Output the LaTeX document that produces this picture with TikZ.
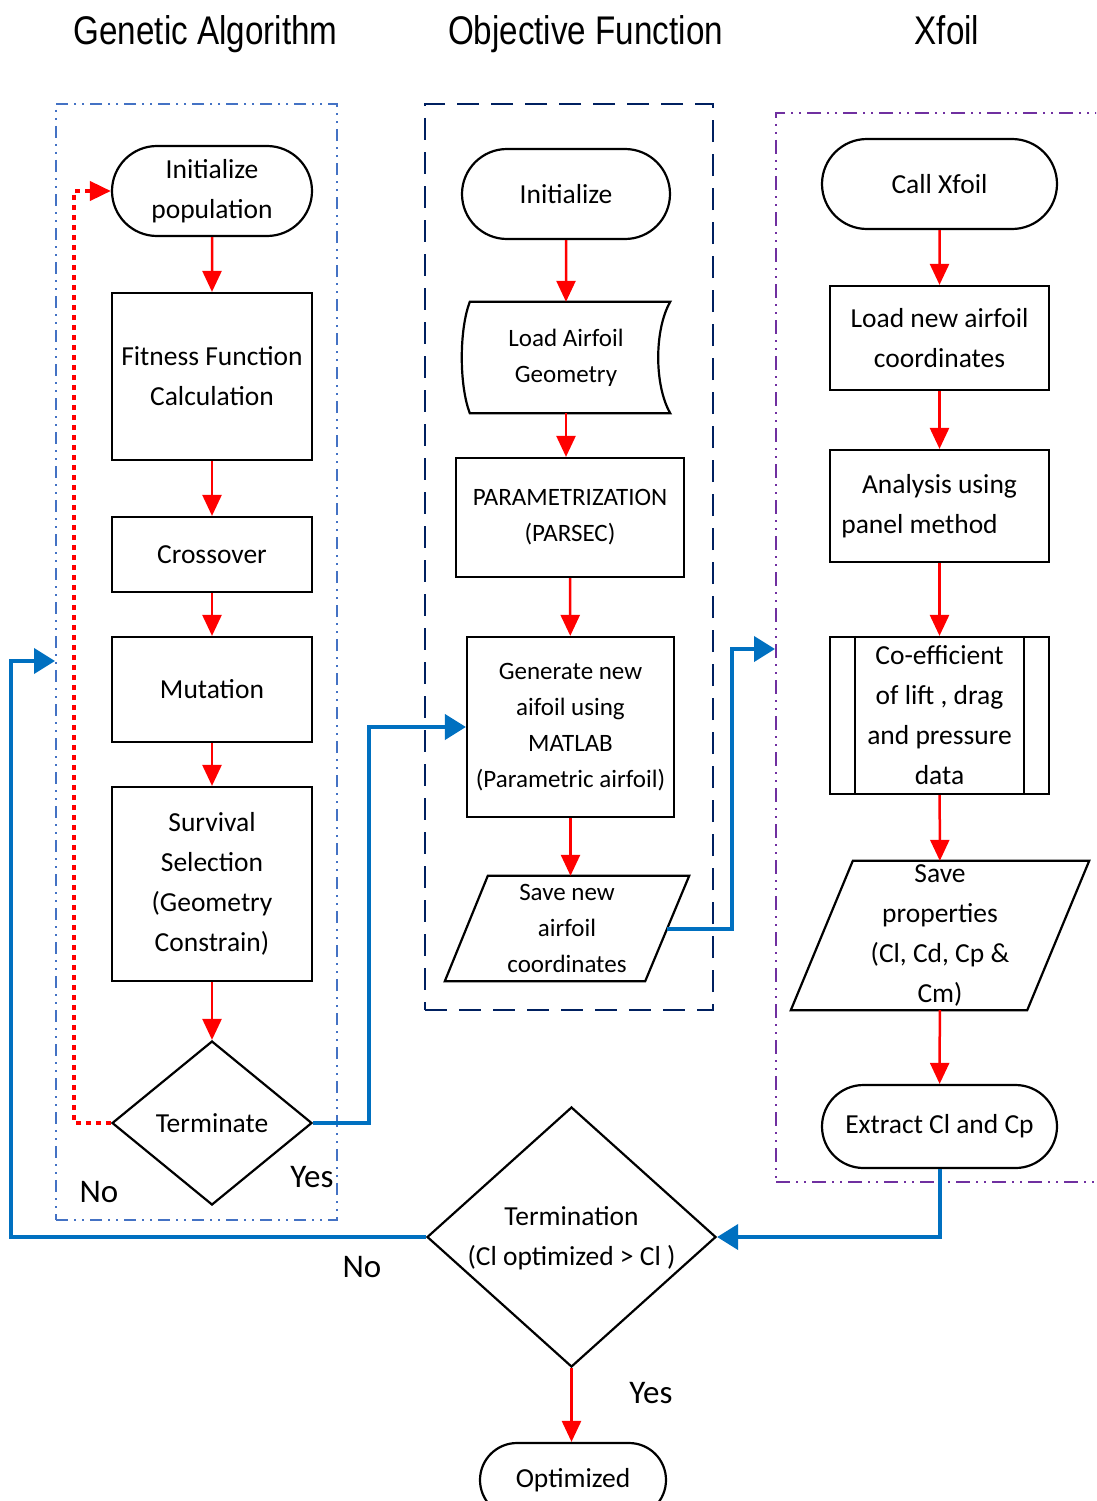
\documentclass[tikz,border=0pt]{standalone}
\usepackage{fontspec}
\setmainfont{Carlito}
\newfontfamily\titlefont[FakeStretch=0.83]{Liberation Sans}
\usetikzlibrary{arrows.meta,shapes.misc,shapes.geometric,calc}
\definecolor{ared}{HTML}{FF0000}
\definecolor{ablue}{HTML}{0070C0}
\definecolor{gabl}{HTML}{4472C4}
\definecolor{navyc}{HTML}{002060}
\definecolor{purp}{HTML}{7030A0}
\tikzset{
  shp/.style={line width=2.2pt, black},
  bigtxt/.style={font=\fontsize{27.5}{40}\selectfont, align=center},
  midtxt/.style={font=\fontsize{25}{36}\selectfont, align=center},
  termbox/.style={shp, draw, rounded rectangle, inner sep=0pt, bigtxt},
  procbox/.style={shp, draw, rectangle, inner sep=0pt},
  bare/.style={rectangle, inner sep=0pt},
  decis/.style={shp, draw, diamond, inner sep=0pt, bigtxt},
  redarr/.style={draw=ared, line width=2.5pt, -{Triangle[width=19pt,length=21pt]}, color=ared},
  bluearr/.style={draw=ablue, line width=4pt, -{Triangle[width=25pt,length=21pt]}, color=ablue},
  dotarr/.style={draw=ared, line width=4pt, dash pattern=on 5pt off 5pt, -{Triangle[width=19pt,length=21pt]}, color=ared},
  grpbox/.style={rectangle, inner sep=0pt, line width=2pt},
  lbl/.style={font=\fontsize{33}{40}\selectfont},
  ttl/.style={font=\titlefont\fontsize{40}{48}\selectfont, anchor=base}
}
\begin{document}
\begin{tikzpicture}[x=1pt,y=-1pt]
\fill[white] (0,0) rectangle (1096,1501);
\clip (0,0) rectangle (1096,1501);

% titles
\node[ttl] (t1) at (205.5,45) {Genetic Algorithm};
\node[ttl] (t2) at (585.5,45) {Objective Function};
\node[ttl] (t3) at (947,45) {Xfoil};

% group boxes
\node[grpbox, draw=gabl, dash pattern=on 12pt off 6pt on 2pt off 6pt on 2pt off 6pt, minimum width=281pt, minimum height=1116pt] (gabox) at (196.5,662) {};
\node[grpbox, draw=navyc, dash pattern=on 22pt off 12pt, minimum width=288pt, minimum height=906pt] (ofbox) at (569,557) {};
\node[grpbox, draw=purp, dash pattern=on 14pt off 6pt on 2pt off 6pt on 2pt off 6pt, minimum width=334pt, minimum height=1069pt] (xfbox) at (943,647.5) {};

% GA column
\node[termbox, minimum width=200pt, minimum height=90pt] (ip) at (212,191) {Initialize\\population};
\node[procbox, bigtxt, minimum width=200pt, minimum height=167pt] (fit) at (212,376.5) {Fitness Function\\Calculation};
\node[procbox, bigtxt, minimum width=200pt, minimum height=75pt] (cross) at (212,554.5) {Crossover};
\node[procbox, bigtxt, minimum width=200pt, minimum height=105pt] (mut) at (212,689.5) {Mutation};
\node[procbox, bigtxt, minimum width=200pt, minimum height=194pt] (surv) at (212,884) {Survival\\Selection\\(Geometry\\Constrain)};
\node[decis, minimum width=200pt, minimum height=164pt, aspect=1.22] (term1) at (212,1123) {Terminate};

\draw[redarr] (ip) -- (fit);
\draw[redarr] (fit) -- (cross);
\draw[redarr] (cross) -- (mut);
\draw[redarr] (mut) -- (surv);
\draw[redarr] (surv) -- (term1);
\draw[dotarr] (term1.west) -- (74,1123) -- (74,191) -- (ip.west);

\node[lbl] (no1) at (99,1192) {No};
\node[lbl] (yes1) at (312,1177) {Yes};

% Objective function column
\node[termbox, minimum width=208pt, minimum height=90pt] (init) at (566,194) {Initialize};
\node[bare, midtxt, minimum width=208pt, minimum height=111pt] (load) at (566,357.5) {Load Airfoil\\Geometry};
\draw[shp] ([xshift=8pt]load.north west) -- (load.north east)
  .. controls ($(load.north east)+(-16,28)$) and ($(load.south east)+(-16,-28)$) .. (load.south east)
  -- ([xshift=8pt]load.south west)
  .. controls ($(load.south west)+(-2.7,-28)$) and ($(load.north west)+(-2.7,28)$) .. ([xshift=8pt]load.north west) -- cycle;
\node[procbox, midtxt, minimum width=228pt, minimum height=119pt] (param) at (570,517.5) {PARAMETRIZATION\\(PARSEC)};
\node[procbox, midtxt, minimum width=207pt, minimum height=180pt] (gen) at (570.5,727) {Generate new\\aifoil using\\MATLAB\\(Parametric airfoil)};
\node[bare, midtxt, minimum width=244pt, minimum height=105pt] (save) at (567,928.5) {Save new\\airfoil\\coordinates};
\draw[shp] ([xshift=43pt]save.north west) -- (save.north east) -- ([xshift=-44pt]save.south east) -- (save.south west) -- cycle;

\draw[redarr] (init) -- (load);
\draw[redarr] (load.south) -- (load.south |- param.north);
\draw[redarr] (param) -- (gen);
\draw[redarr] (gen.south) -- (gen.south |- save.north);

% Xfoil column
\node[termbox, minimum width=235pt, minimum height=90pt] (call) at (939.5,184) {Call Xfoil};
\node[procbox, bigtxt, minimum width=219pt, minimum height=104pt] (loadnew) at (939.5,338) {Load new airfoil\\coordinates};
\node[procbox, bigtxt, minimum width=219pt, minimum height=112pt] (anal) at (939.5,506) {Analysis using\\panel method\hspace*{40pt}};
\node[procbox, bigtxt, minimum width=219pt, minimum height=157pt] (coef) at (939.5,715.5) {Co-efficient\\of lift , drag\\and pressure\\data};
\draw[shp] ([xshift=26pt]coef.north west) -- ([xshift=26pt]coef.south west);
\draw[shp] ([xshift=-26pt]coef.north east) -- ([xshift=-26pt]coef.south east);
\node[bare, bigtxt, minimum width=298pt, minimum height=149pt] (saveprop) at (940,935.5) {Save\\properties\\(Cl, Cd, Cp \&\\Cm)};
\draw[shp] ([xshift=62pt]saveprop.north west) -- (saveprop.north east) -- ([xshift=-62pt]saveprop.south east) -- (saveprop.south west) -- cycle;
\node[termbox, minimum width=235pt, minimum height=83pt] (extract) at (939.5,1126.5) {Extract Cl and Cp};

\draw[redarr] (call) -- (loadnew);
\draw[redarr] (loadnew) -- (anal);
\draw[redarr] (anal) -- (coef);
\draw[redarr] (coef) -- (saveprop);
\draw[redarr] (saveprop) -- (extract);

% bottom decision
\node[decis, minimum width=289pt, minimum height=260pt, aspect=1.11] (term2) at (571.5,1237)
  {\makebox[0pt]{\begin{tabular}{@{}c@{}}Termination\\(Cl optimized > Cl )\end{tabular}}};
\node[termbox, minimum width=186pt, minimum height=74pt] (opt) at (573,1480) {Optimized};
\draw[redarr] (term2.south) -- (term2.south |- opt.north);

\node[lbl] (no2) at (362,1267) {No};
\node[lbl] (yes2) at (651,1393) {Yes};

% blue connectors
\coordinate (saveR) at ($(save.east)+(-22,0)$);
\draw[bluearr] (term1.east) -- (369,1123) -- (369,727) -- (gen.west);
\draw[bluearr] (saveR) -- (732,928.5) -- (732,649) -- (xfbox.west |- 0,649);
\draw[bluearr] (extract.south) -- (extract.south |- term2.east) -- (term2.east);
\draw[bluearr] (term2.west) -- (11,1237) -- (11,661) -- (gabox.west |- 0,661);
\end{tikzpicture}
\end{document}
